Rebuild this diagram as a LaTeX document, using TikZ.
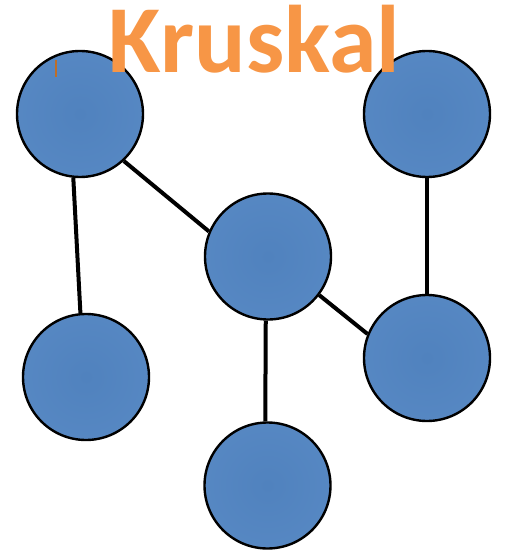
\documentclass[tikz,border=0pt]{standalone}
\usepackage{fontspec}
\newfontfamily\titlefont{Carlito}
\definecolor{nodeblue}{RGB}{80,130,190}
\definecolor{nodelight}{RGB}{120,165,220}
\definecolor{titleorange}{RGB}{247,150,70}
\definecolor{cursorbrown}{RGB}{190,110,40}
\tikzset{
  vertex/.style={circle, draw=black, line width=2.4pt, minimum size=126pt, inner sep=0pt,
    inner color=nodeblue, outer color=nodeblue!85!nodelight},
  edge/.style={draw=black, line width=4pt},
}
\begin{document}
\begin{tikzpicture}[x=1pt,y=-1pt]
\useasboundingbox (0,0) rectangle (507,559);
\node[vertex] (tl) at (80,114) {};
\node[vertex] (tr) at (427,114) {};
\node[vertex] (m) at (268,256.5) {};
\node[vertex] (bl) at (86,377) {};
\node[vertex] (rm) at (427,358) {};
\node[vertex] (bm) at (267.5,485.5) {};
\draw[edge] (tl.-96) -- (bl.95.4);
\draw[edge] (tl.-47.6) -- (m.157);
\draw[edge] (tr.-90.9) -- (rm.90.9);
\draw[edge] (m.-37.6) -- (rm.158.7);
\draw[edge] (m.-92.7) -- (bm.92.3);
\coordinate (c1) at (55.7,60);
\coordinate (c2) at (55.7,77);
\draw[cursorbrown, line width=2pt] (c1) -- (c2);
\node[anchor=base, inner sep=0pt, text=titleorange, font=\titlefont\bfseries\fontsize{96}{96}\selectfont] (title) at (254.5,73) {Kruskal};
\end{tikzpicture}
\end{document}
